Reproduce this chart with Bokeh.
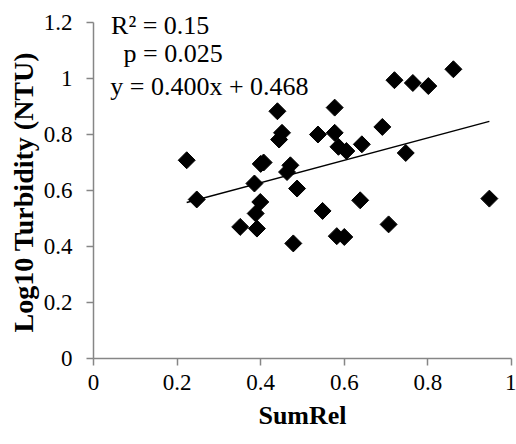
import math
from bokeh.plotting import figure
from bokeh.models import Label, FixedTicker, Range1d, ColumnDataSource, Title
from bokeh.embed import file_html
from bokeh.resources import INLINE

sum_rel = [0.223, 0.247, 0.351, 0.388, 0.391, 0.399, 0.385, 0.400, 0.407,
           0.440, 0.444, 0.451, 0.463, 0.471, 0.478, 0.487, 0.537, 0.548,
           0.577, 0.577, 0.582, 0.586, 0.600, 0.605, 0.638, 0.642, 0.691,
           0.706, 0.720, 0.747, 0.764, 0.801, 0.861, 0.947]
log_turb = [0.708, 0.568, 0.470, 0.518, 0.464, 0.559, 0.625, 0.695, 0.700,
            0.883, 0.782, 0.806, 0.666, 0.690, 0.411, 0.607, 0.800, 0.527,
            0.896, 0.806, 0.437, 0.756, 0.434, 0.741, 0.565, 0.765, 0.827,
            0.479, 0.994, 0.734, 0.984, 0.973, 1.033, 0.571]

slope = 0.400
intercept = 0.468
stats_lines = ["R\u00b2 = 0.15", "p = 0.025", "y = 0.400x + 0.468"]

x_ticks = [0, 0.2, 0.4, 0.6, 0.8, 1.0]
x_tick_labels = ["0", "0.2", "0.4", "0.6", "0.8", "1"]
y_ticks = [0, 0.2, 0.4, 0.6, 0.8, 1.0, 1.2]
y_tick_labels = ["0", "0.2", "0.4", "0.6", "0.8", "1", "1.2"]
x_title = "SumRel"
y_title = "Log10 Turbidity (NTU)"

FONT = "Liberation Serif"
AXIS_GRAY = "#868686"

FRAME_H = 358
PX_PER_Y = 280.0

p = figure(width=516, height=444, output_backend="svg", toolbar_location=None,
           x_range=Range1d(0, 1), y_range=Range1d(0, FRAME_H / PX_PER_Y),
           min_border_left=93, min_border_right=5, min_border_top=0,
           min_border_bottom=86)
p.outline_line_color = None
p.xgrid.visible = False
p.ygrid.visible = False
p.background_fill_color = "white"
p.border_fill_color = "white"

src = ColumnDataSource(dict(x=sum_rel, y=log_turb))
p.scatter("x", "y", source=src, marker="square", size=12, angle=math.pi / 4,
          fill_color="black", line_color="black")

xmin, xmax = min(sum_rel), max(sum_rel)
p.line([xmin, xmax], [slope * xmin + intercept, slope * xmax + intercept],
       line_color="black", line_width=1.5)

for ax, ticks, labels in ((p.xaxis[0], x_ticks, x_tick_labels),
                          (p.yaxis[0], y_ticks, y_tick_labels)):
    ax.ticker = FixedTicker(ticks=ticks)
    ax.major_label_overrides = {t: l for t, l in zip(ticks, labels)}
    ax.minor_tick_line_color = None
    ax.axis_line_color = AXIS_GRAY
    ax.axis_line_width = 1.5
    ax.major_tick_line_color = AXIS_GRAY
    ax.major_tick_line_width = 1.5
    ax.major_tick_in = 0
    ax.major_tick_out = 7
    ax.major_label_text_font = FONT
    ax.major_label_text_font_size = "23px"
    ax.major_label_text_color = "black"
    ax.axis_label_text_font = FONT
    ax.axis_label_text_font_style = "bold"
    ax.axis_label_text_color = "black"

p.xaxis.axis_label_text_font_size = "26px"
p.yaxis.bounds = (0, 1.2)
p.xaxis.axis_label = x_title
p.xaxis.major_label_standoff = 9
p.yaxis.major_label_standoff = 14
p.xaxis.axis_label_standoff = 8
p.yaxis.major_label_orientation = "horizontal"

# y-axis title placed so that it is centred on the 0..1.2 axis span
p.add_layout(Title(text=y_title, align="left", offset=26, standoff=4,
                   text_font=FONT, text_font_size="28px",
                   text_font_style="bold", text_color="black"), "left")

label_pos = [(0.042, 1.190), (0.072, 1.090), (0.040, 0.972)]
for text, (lx, ly) in zip(stats_lines, label_pos):
    p.add_layout(Label(x=lx, y=ly, text=text, text_font=FONT,
                       text_font_size="26px", text_color="black",
                       text_baseline="alphabetic", text_align="left"))

open("out.html", "w").write(file_html(p, INLINE))
